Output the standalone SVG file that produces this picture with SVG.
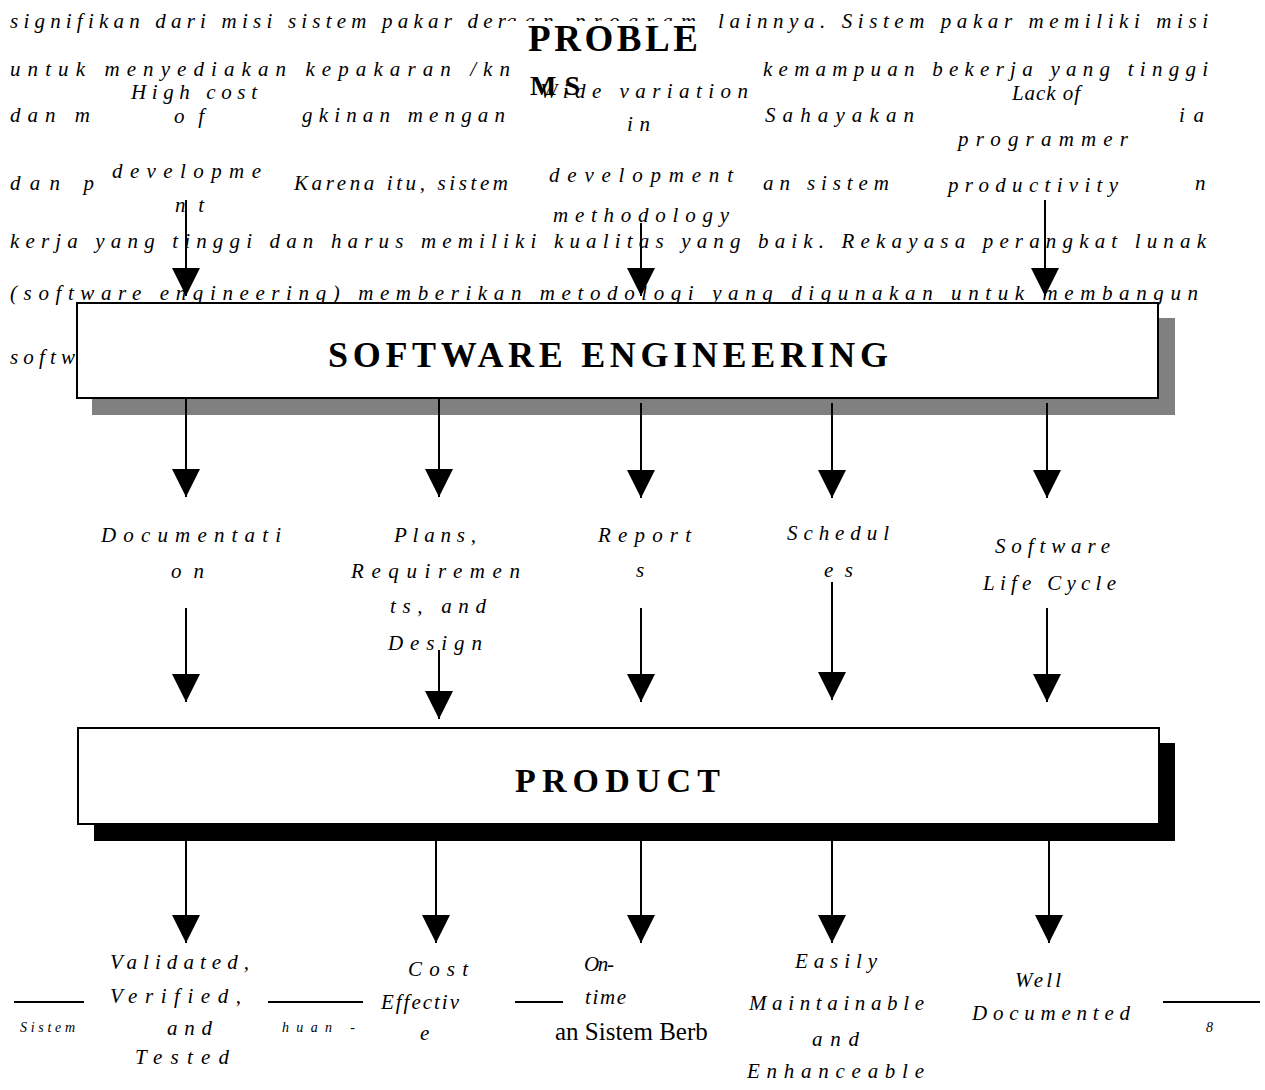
<svg xmlns="http://www.w3.org/2000/svg" width="1265" height="1090" viewBox="0 0 1265 1090">
<style>
.bg{font-family:"Liberation Serif",serif;font-style:italic;font-size:21px;fill:#000}
.lbl{font-family:"Liberation Serif",serif;font-style:italic;font-size:21px;fill:#000}
.hdr{font-family:"Liberation Serif",serif;font-weight:bold;fill:#000}
.ft{font-family:"Liberation Serif",serif;font-style:italic;font-size:14px;fill:#000}
.box{fill:#fff;stroke:#000;stroke-width:2}
.conn line{stroke:#000;stroke-width:2;marker-end:url(#ah)}
.rule{stroke:#000;stroke-width:2}
</style>
<defs>
<marker id="ah" markerUnits="userSpaceOnUse" markerWidth="28" markerHeight="28" refX="28" refY="14" orient="auto">
<path d="M0,0 L28,14 L0,28 z" fill="#000"/>
</marker>
<clipPath id="topHalf"><rect x="500" y="0" width="220" height="21"/></clipPath>
<clipPath id="berba"><rect x="400" y="990" width="308" height="70"/></clipPath>
</defs>
<rect width="1265" height="1090" fill="#fff"/>

<g id="page-text">
<text class="bg" x="10" y="28" textLength="496" lengthAdjust="spacing">signifikan dari misi sistem pakar der</text>
<text class="bg" x="506" y="28" textLength="190" lengthAdjust="spacing" clip-path="url(#topHalf)">gan program</text>
<text class="bg" x="718" y="28" textLength="490" lengthAdjust="spacing">lainnya. Sistem pakar memiliki misi</text>
<text class="bg" x="10" y="76" textLength="500" lengthAdjust="spacing">untuk menyediakan kepakaran /kn</text>
<text class="bg" x="763" y="76" textLength="445" lengthAdjust="spacing">kemampuan bekerja yang tinggi</text>
<text class="bg" x="10" y="122" textLength="80" lengthAdjust="spacing">dan m</text>
<text class="bg" x="302" y="122" textLength="203" lengthAdjust="spacing">gkinan mengan</text>
<text class="bg" x="765" y="122" textLength="149" lengthAdjust="spacing">Sahayakan</text>
<text class="bg" x="1179" y="122" textLength="25" lengthAdjust="spacing">ia</text>
<text class="bg" x="10" y="190" textLength="84" lengthAdjust="spacing">dan p</text>
<text class="bg" x="294" y="190" textLength="214" lengthAdjust="spacing">Karena itu, sistem</text>
<text class="bg" x="763" y="190" textLength="126" lengthAdjust="spacing">an sistem</text>
<text class="bg" x="1195" y="190">n</text>
<text class="bg" x="10" y="248" textLength="1196" lengthAdjust="spacing">kerja yang tinggi dan harus memiliki kualitas yang baik. Rekayasa perangkat lunak</text>
<text class="bg" x="10" y="300" textLength="1188" lengthAdjust="spacing">(software engineering) memberikan metodologi yang digunakan untuk membangun</text>
<text class="bg" x="10" y="364" textLength="65" lengthAdjust="spacing">softw</text>
</g>

<g id="footer">
<line class="rule" x1="14" y1="1002" x2="84" y2="1002"/>
<line class="rule" x1="268" y1="1002" x2="363" y2="1002"/>
<line class="rule" x1="515" y1="1002" x2="563" y2="1002"/>
<line class="rule" x1="1163" y1="1002" x2="1260" y2="1002"/>
<text class="ft" x="20" y="1032" textLength="55" lengthAdjust="spacing">Sistem</text>
<text class="ft" x="282" y="1032" textLength="73" lengthAdjust="spacing">huan -</text>
<text x="555" y="1040" font-family="Liberation Serif, serif" font-size="25" clip-path="url(#berba)">an Sistem Berba</text>
<text class="ft" x="1206" y="1032">8</text>
</g>

<g id="problems">
<text class="hdr" x="528" y="51" font-size="37" textLength="170" lengthAdjust="spacing">PROBLE</text>
<text class="hdr" x="530" y="95" font-size="28" textLength="50" lengthAdjust="spacing">MS</text>
</g>

<g id="problem-high-cost">
<text class="lbl" x="131" y="99" textLength="126" lengthAdjust="spacing">High cost</text>
<text class="lbl" x="174" y="123" textLength="30" lengthAdjust="spacing">of</text>
<text class="lbl" x="112" y="178" textLength="149" lengthAdjust="spacing">developme</text>
<text class="lbl" x="175" y="212" textLength="29" lengthAdjust="spacing">nt</text>
</g>
<g id="problem-wide-variation">
<text class="lbl" x="540" y="98" textLength="208" lengthAdjust="spacing">Wide variation</text>
<text class="lbl" x="627" y="131" textLength="23" lengthAdjust="spacing">in</text>
<text class="lbl" x="549" y="182" textLength="184" lengthAdjust="spacing">development</text>
<text class="lbl" x="553" y="222" textLength="176" lengthAdjust="spacing">methodology</text>
</g>
<g id="problem-lack-productivity">
<text class="lbl" x="1012" y="100" textLength="68" lengthAdjust="spacing">Lack of</text>
<text class="lbl" x="958" y="146" textLength="170" lengthAdjust="spacing">programmer</text>
<text class="lbl" x="948" y="192" textLength="170" lengthAdjust="spacing">productivity</text>
</g>

<g id="software-engineering">
<rect x="92" y="318" width="1083" height="97" fill="#808080"/>
<rect class="box" x="77" y="303" width="1081" height="95"/>
<text class="hdr" x="328" y="367" font-size="36" textLength="560" lengthAdjust="spacing">SOFTWARE ENGINEERING</text>
</g>

<g id="out-documentation">
<text class="lbl" x="101" y="542" textLength="180" lengthAdjust="spacing">Documentati</text>
<text class="lbl" x="171" y="578" textLength="33" lengthAdjust="spacing">on</text>
</g>
<g id="out-plans">
<text class="lbl" x="394" y="542" textLength="82" lengthAdjust="spacing">Plans,</text>
<text class="lbl" x="351" y="578" textLength="169" lengthAdjust="spacing">Requiremen</text>
<text class="lbl" x="390" y="613" textLength="96" lengthAdjust="spacing">ts, and</text>
<text class="lbl" x="388" y="650" textLength="94" lengthAdjust="spacing">Design</text>
</g>
<g id="out-reports">
<text class="lbl" x="598" y="542" textLength="93" lengthAdjust="spacing">Report</text>
<text class="lbl" x="636" y="577">s</text>
</g>
<g id="out-schedules">
<text class="lbl" x="787" y="540" textLength="102" lengthAdjust="spacing">Schedul</text>
<text class="lbl" x="824" y="577" textLength="29" lengthAdjust="spacing">es</text>
</g>
<g id="out-lifecycle">
<text class="lbl" x="995" y="553" textLength="115" lengthAdjust="spacing">Software</text>
<text class="lbl" x="983" y="590" textLength="133" lengthAdjust="spacing">Life Cycle</text>
</g>

<g id="product">
<rect x="94" y="743" width="1081" height="98" fill="#000"/>
<rect class="box" x="78" y="728" width="1081" height="96"/>
<text class="hdr" x="515" y="792" font-size="34" textLength="205" lengthAdjust="spacing">PRODUCT</text>
</g>

<g id="q-validated">
<text class="lbl" x="110" y="969" textLength="139" lengthAdjust="spacing">Validated,</text>
<text class="lbl" x="110" y="1003" textLength="131" lengthAdjust="spacing">Verified,</text>
<text class="lbl" x="167" y="1035" textLength="45" lengthAdjust="spacing">and</text>
<text class="lbl" x="135" y="1064" textLength="94" lengthAdjust="spacing">Tested</text>
</g>
<g id="q-cost">
<text class="lbl" x="408" y="976" textLength="60" lengthAdjust="spacing">Cost</text>
<text class="lbl" x="381" y="1009" textLength="78" lengthAdjust="spacing">Effectiv</text>
<text class="lbl" x="420" y="1040">e</text>
</g>
<g id="q-ontime">
<text class="lbl" x="584" y="971" textLength="30" lengthAdjust="spacing">On-</text>
<text class="lbl" x="585" y="1004" font-size="15" textLength="41" lengthAdjust="spacing">time</text>
</g>
<g id="q-maintainable">
<text class="lbl" x="795" y="968" textLength="82" lengthAdjust="spacing">Easily</text>
<text class="lbl" x="749" y="1010" textLength="175" lengthAdjust="spacing">Maintainable</text>
<text class="lbl" x="812" y="1046" textLength="47" lengthAdjust="spacing">and</text>
<text class="lbl" x="747" y="1078" textLength="177" lengthAdjust="spacing">Enhanceable</text>
</g>
<g id="q-documented">
<text class="lbl" x="1015" y="987" textLength="46" lengthAdjust="spacing">Well</text>
<text class="lbl" x="972" y="1020" textLength="158" lengthAdjust="spacing">Documented</text>
</g>

<g id="connectors" class="conn">
<line x1="186" y1="200" x2="186" y2="296"/>
<line x1="641" y1="223" x2="641" y2="296"/>
<line x1="1045" y1="200" x2="1045" y2="296"/>
<line x1="186" y1="398" x2="186" y2="497"/>
<line x1="439" y1="398" x2="439" y2="497"/>
<line x1="641" y1="403" x2="641" y2="498"/>
<line x1="832" y1="403" x2="832" y2="498"/>
<line x1="1047" y1="403" x2="1047" y2="498"/>
<line x1="186" y1="608" x2="186" y2="702"/>
<line x1="439" y1="650" x2="439" y2="719"/>
<line x1="641" y1="608" x2="641" y2="702"/>
<line x1="832" y1="582" x2="832" y2="700"/>
<line x1="1047" y1="608" x2="1047" y2="702"/>
<line x1="186" y1="841" x2="186" y2="943"/>
<line x1="436" y1="841" x2="436" y2="943"/>
<line x1="641" y1="841" x2="641" y2="943"/>
<line x1="832" y1="841" x2="832" y2="943"/>
<line x1="1049" y1="841" x2="1049" y2="943"/>
</g>
</svg>
